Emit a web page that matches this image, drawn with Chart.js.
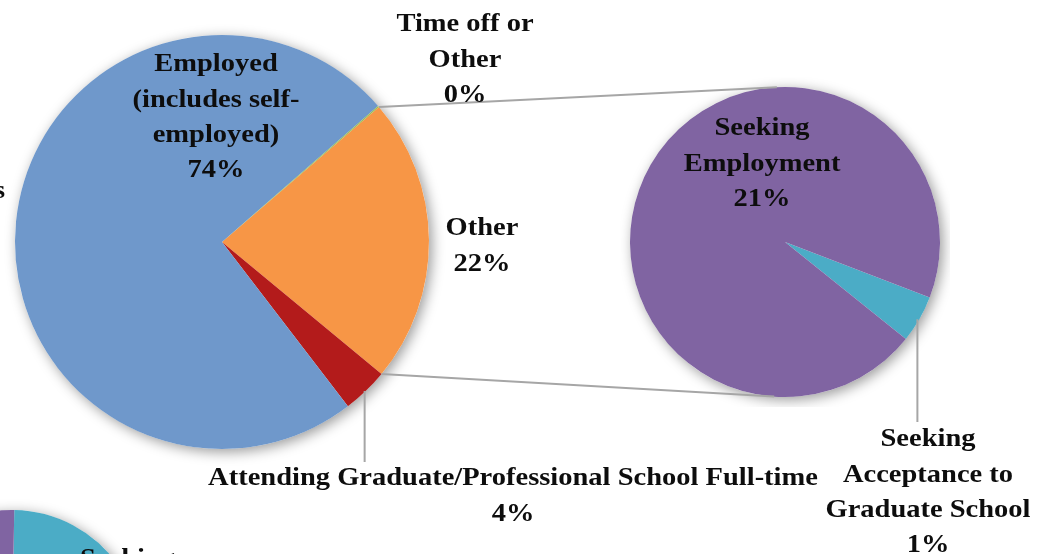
<!DOCTYPE html>
<html>
<head>
<meta charset="utf-8">
<title>Post-graduation status: pie of pie</title>
<script src="https://cdn.jsdelivr.net/npm/chart.js@4.4.0/dist/chart.umd.min.js"></script>
<style>
  html, body { margin: 0; padding: 0; width: 1046px; height: 554px; overflow: hidden; background: #fff; }
  canvas { position: absolute; }
  #nextPie { left: -138px; top: 490px; }
  #subPie { left: 620px; top: 77px; }
  #mainPie { left: 0; top: 0; }
</style>
</head>
<body>

<canvas id="nextPie" width="300" height="300"></canvas>
<canvas id="subPie" width="330" height="330"></canvas>
<canvas id="mainPie" width="1046" height="554"></canvas>

<script>
// main pie, clockwise from the split edge
const mainCategories = ['Other', 'Attending Graduate/Professional School Full-time', 'Employed (includes self-employed)', 'Time off or Other'];
const mainValues = [22.3, 3.6, 74.0, 0.1];

// second pie: breakdown of "Other"
const subCategories = ['Seeking Acceptance to Graduate School', 'Seeking Employment'];
const subValues = [1.1, 21.2];

// next chart down the page, only its top edge shows
const nextCategories = ['Seeking', 'Other'];
const nextValues = [30, 70];

const FONT = 'bold 25px "Liberation Serif", "DejaVu Serif", serif';
const TEXT_STRETCH = 1.14; // the original face is wider than Liberation Serif
const mainColors = ['#F79646', '#B31B1B', '#6F98CB', '#9BBB59'];
const subColors = ['#4BACC6', '#8064A2'];
const nextColors = ['#4BACC6', '#8064A2'];

function pct(v) { return Math.round(v) + '%'; }

// soft drop shadow under each pie
const shadowPlugin = {
  id: 'pieShadow',
  beforeDatasetsDraw(chart) {
    const arc = chart.getDatasetMeta(0).data[0];
    const ctx = chart.ctx;
    ctx.save();
    ctx.beginPath();
    ctx.arc(arc.x, arc.y, arc.outerRadius, 0, Math.PI * 2);
    ctx.shadowColor = 'rgba(0,0,0,0.4)';
    ctx.shadowBlur = 13;
    ctx.shadowOffsetX = 3;
    ctx.shadowOffsetY = 3;
    ctx.fillStyle = '#fff';
    ctx.fill();
    ctx.restore();
  }
};

function pieOptions(rotation, padding) {
  return {
    responsive: false,
    animation: false,
    rotation: rotation,
    layout: { padding: padding },
    plugins: { legend: { display: false }, tooltip: { enabled: false } },
    events: []
  };
}

const nextChart = new Chart('nextPie', {
  type: 'pie',
  data: { labels: nextCategories, datasets: [{ data: nextValues, backgroundColor: nextColors, borderWidth: 0 }] },
  options: pieOptions(1, 20),
  plugins: [shadowPlugin]
});

const subChart = new Chart('subPie', {
  type: 'pie',
  data: { labels: subCategories, datasets: [{ data: subValues, backgroundColor: subColors, borderWidth: 0 }] },
  options: pieOptions(111, 10),
  plugins: [shadowPlugin]
});

function edgePoint(x, y, r, a) {
  return { x: x + r * Math.cos(a), y: y + r * Math.sin(a) };
}

function drawLines(ctx, lines, x, y) {
  lines.forEach(function (t, i) {
    ctx.save();
    ctx.translate(x, y + i * 35.3);
    ctx.scale(TEXT_STRETCH, 1);
    ctx.fillText(t, 0, 0);
    ctx.restore();
  });
}

// connectors, leader lines and labels on top of everything
const overlayPlugin = {
  id: 'overlay',
  afterDraw(chart) {
    const ctx = chart.ctx;
    const main = chart.getDatasetMeta(0).data;
    const sub = subChart.getDatasetMeta(0).data;
    const mainBox = chart.canvas.getBoundingClientRect();
    const subBox = subChart.canvas.getBoundingClientRect();
    const sx = sub[0].x + subBox.left - mainBox.left;
    const sy = sub[0].y + subBox.top - mainBox.top;
    const sr = sub[0].outerRadius;
    const mx = main[0].x, my = main[0].y, mr = main[0].outerRadius;

    ctx.save();
    ctx.strokeStyle = '#A6A6A6';
    ctx.lineWidth = 2;

    // pie-of-pie connectors from the split slice to the second pie
    const a1 = edgePoint(mx, my, mr, main[0].startAngle);
    const b1 = edgePoint(sx, sy, sr, -93 * Math.PI / 180);
    const a2 = edgePoint(mx, my, mr, main[0].endAngle);
    const b2 = edgePoint(sx, sy, sr, 94 * Math.PI / 180);
    ctx.beginPath();
    ctx.moveTo(a1.x, a1.y); ctx.lineTo(b1.x, b1.y);
    ctx.moveTo(a2.x, a2.y); ctx.lineTo(b2.x, b2.y);
    ctx.stroke();

    // leader lines for the small slices
    const g = main[1];
    const gp = edgePoint(mx, my, mr, (g.startAngle + g.endAngle) / 2);
    const t = sub[0];
    const tp = edgePoint(sx, sy, sr, (t.startAngle + t.endAngle) / 2);
    ctx.beginPath();
    ctx.moveTo(gp.x - 1, gp.y); ctx.lineTo(gp.x - 1, 462);
    ctx.moveTo(tp.x - 2, tp.y); ctx.lineTo(tp.x - 2, 422);
    ctx.stroke();

    // labels
    ctx.fillStyle = '#0D0D0D';
    ctx.font = FONT;
    ctx.textAlign = 'center';
    ctx.textBaseline = 'middle';
    drawLines(ctx, ['Employed', '(includes self-', 'employed)', pct(mainValues[2])], 216, 65);
    drawLines(ctx, ['Time off or', 'Other', pct(mainValues[3])], 465, 25);
    drawLines(ctx, ['Other', pct(mainValues[0])], 482, 229);
    drawLines(ctx, ['Seeking', 'Employment', pct(subValues[1])], 762, 129);
    drawLines(ctx, [mainCategories[1], pct(mainValues[1])], 513, 479);
    drawLines(ctx, ['Seeking', 'Acceptance to', 'Graduate School', pct(subValues[0])], 928, 440);
    // labels of neighbouring charts cut by the frame
    ctx.textAlign = 'left';
    drawLines(ctx, [nextCategories[0]], 80, 560);
    drawLines(ctx, ['s'], -6, 192);
    ctx.restore();
  }
};

new Chart('mainPie', {
  type: 'pie',
  data: { labels: mainCategories, datasets: [{ data: mainValues, backgroundColor: mainColors, borderWidth: 0 }] },
  options: pieOptions(49.3, { left: 15, top: 35, right: 617, bottom: 105 }),
  plugins: [shadowPlugin, overlayPlugin]
});
</script>

</body>
</html>
